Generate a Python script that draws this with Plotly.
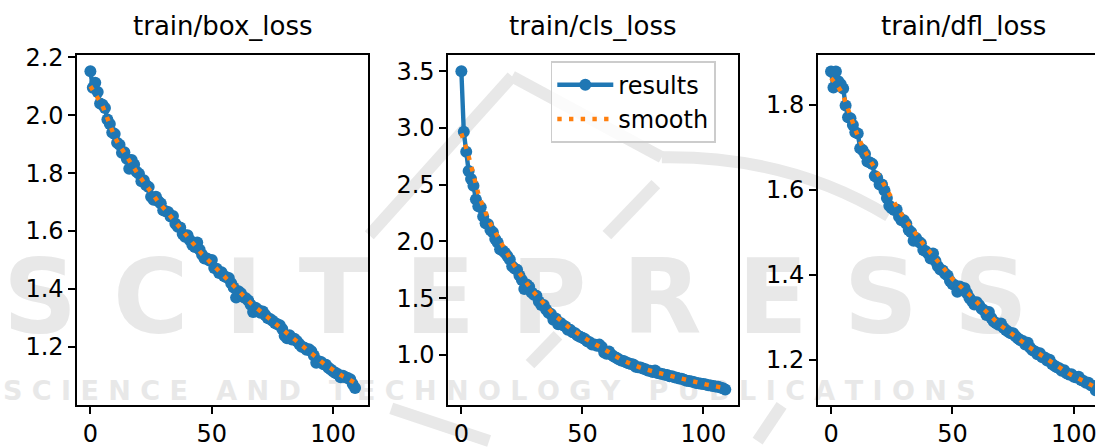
import plotly.graph_objects as go

W, H = 1097, 448

epochs = list(range(110))

box_results = [2.152, 2.095, 2.112, 2.080, 2.040, 2.036, 2.025, 1.985, 1.970, 1.940,
               1.935, 1.905, 1.898, 1.870, 1.872, 1.850, 1.815, 1.845, 1.830, 1.805,
               1.798, 1.772, 1.775, 1.758, 1.752, 1.718, 1.708, 1.718, 1.703, 1.695,
               1.672, 1.668, 1.666, 1.650, 1.652, 1.625, 1.615, 1.612, 1.590, 1.580,
               1.585, 1.568, 1.552, 1.545, 1.560, 1.535, 1.518, 1.505, 1.505, 1.498,
               1.500, 1.472, 1.470, 1.455, 1.458, 1.445, 1.440, 1.438, 1.420, 1.405,
               1.370, 1.392, 1.385, 1.372, 1.368, 1.360, 1.345, 1.320, 1.335, 1.328,
               1.318, 1.322, 1.310, 1.300, 1.296, 1.290, 1.282, 1.278, 1.275, 1.262,
               1.238, 1.230, 1.240, 1.225, 1.228, 1.220, 1.210, 1.200, 1.198, 1.190,
               1.192, 1.185, 1.170, 1.145, 1.150, 1.148, 1.140, 1.138, 1.128, 1.122,
               1.115, 1.110, 1.105, 1.095, 1.100, 1.095, 1.092, 1.088, 1.072, 1.058]
box_smooth = [2.100, 2.088, 2.075, 2.062, 2.046, 2.032, 2.010, 1.983, 1.963, 1.945,
              1.925, 1.909, 1.896, 1.882, 1.866, 1.850, 1.838, 1.825, 1.814, 1.803,
              1.791, 1.780, 1.768, 1.756, 1.743, 1.730, 1.718, 1.709, 1.700, 1.691,
              1.681, 1.671, 1.661, 1.650, 1.640, 1.628, 1.618, 1.607, 1.597, 1.586,
              1.576, 1.566, 1.557, 1.548, 1.539, 1.530, 1.520, 1.512, 1.503, 1.495,
              1.487, 1.478, 1.470, 1.461, 1.453, 1.444, 1.436, 1.428, 1.419, 1.411,
              1.402, 1.393, 1.384, 1.375, 1.367, 1.359, 1.351, 1.344, 1.337, 1.330,
              1.322, 1.315, 1.308, 1.301, 1.295, 1.288, 1.282, 1.275, 1.268, 1.260,
              1.252, 1.244, 1.238, 1.231, 1.225, 1.218, 1.212, 1.205, 1.199, 1.192,
              1.185, 1.177, 1.169, 1.162, 1.156, 1.150, 1.143, 1.137, 1.131, 1.125,
              1.119, 1.113, 1.108, 1.102, 1.098, 1.094, 1.090, 1.086, 1.081, 1.076]

cls_results = [3.500, 2.965, 2.790, 2.620, 2.550, 2.490, 2.370, 2.310, 2.300, 2.220,
               2.160, 2.150, 2.100, 2.080, 2.020, 1.990, 1.930, 1.920, 1.900, 1.870,
               1.840, 1.780, 1.760, 1.750, 1.700, 1.660, 1.580, 1.620, 1.600, 1.550,
               1.530, 1.520, 1.470, 1.440, 1.440, 1.400, 1.370, 1.360, 1.310, 1.320,
               1.270, 1.280, 1.260, 1.250, 1.220, 1.220, 1.200, 1.190, 1.170, 1.160,
               1.150, 1.140, 1.120, 1.110, 1.090, 1.090, 1.080, 1.090, 1.070, 1.020,
               1.010, 1.030, 1.000, 0.985, 0.975, 0.960, 0.950, 0.945, 0.935, 0.925,
               0.920, 0.915, 0.895, 0.890, 0.888, 0.880, 0.872, 0.862, 0.860, 0.848,
               0.862, 0.840, 0.835, 0.832, 0.825, 0.822, 0.812, 0.812, 0.803, 0.798,
               0.792, 0.790, 0.780, 0.772, 0.770, 0.765, 0.760, 0.752, 0.750, 0.745,
               0.742, 0.738, 0.732, 0.730, 0.725, 0.720, 0.718, 0.712, 0.705, 0.694]
cls_smooth = [2.950, 2.870, 2.820, 2.750, 2.660, 2.590, 2.510, 2.420, 2.360, 2.300,
              2.250, 2.200, 2.155, 2.115, 2.075, 2.035, 2.000, 1.965, 1.930, 1.895,
              1.850, 1.815, 1.782, 1.750, 1.718, 1.686, 1.656, 1.628, 1.600, 1.573,
              1.550, 1.525, 1.500, 1.475, 1.450, 1.428, 1.405, 1.383, 1.360, 1.340,
              1.320, 1.300, 1.283, 1.266, 1.250, 1.234, 1.218, 1.203, 1.188, 1.175,
              1.162, 1.148, 1.134, 1.120, 1.107, 1.095, 1.085, 1.073, 1.062, 1.048,
              1.034, 1.020, 1.007, 0.994, 0.982, 0.970, 0.958, 0.948, 0.938, 0.928,
              0.918, 0.909, 0.900, 0.893, 0.887, 0.880, 0.872, 0.865, 0.858, 0.852,
              0.847, 0.842, 0.838, 0.834, 0.829, 0.825, 0.819, 0.813, 0.807, 0.801,
              0.795, 0.789, 0.783, 0.778, 0.773, 0.767, 0.762, 0.757, 0.751, 0.747,
              0.743, 0.739, 0.735, 0.731, 0.727, 0.723, 0.719, 0.715, 0.710, 0.705]

dfl_results = [1.878, 1.840, 1.878, 1.855, 1.848, 1.838, 1.798, 1.770, 1.768, 1.752,
               1.735, 1.732, 1.697, 1.693, 1.684, 1.666, 1.664, 1.660, 1.632, 1.628,
               1.612, 1.612, 1.598, 1.580, 1.562, 1.556, 1.552, 1.553, 1.536, 1.528,
               1.528, 1.520, 1.505, 1.500, 1.480, 1.486, 1.478, 1.474, 1.458, 1.455,
               1.450, 1.438, 1.450, 1.432, 1.420, 1.412, 1.410, 1.402, 1.398, 1.385,
               1.378, 1.375, 1.360, 1.372, 1.365, 1.368, 1.356, 1.345, 1.338, 1.330,
               1.335, 1.328, 1.320, 1.316, 1.305, 1.312, 1.298, 1.290, 1.286, 1.282,
               1.285, 1.275, 1.270, 1.266, 1.262, 1.262, 1.255, 1.250, 1.246, 1.244,
               1.236, 1.240, 1.228, 1.222, 1.219, 1.213, 1.215, 1.206, 1.205, 1.198,
               1.200, 1.190, 1.186, 1.182, 1.180, 1.174, 1.175, 1.168, 1.165, 1.166,
               1.160, 1.158, 1.160, 1.152, 1.150, 1.146, 1.146, 1.140, 1.138, 1.128]
dfl_smooth = [1.862, 1.856, 1.849, 1.841, 1.832, 1.822, 1.805, 1.787, 1.770, 1.755,
              1.741, 1.727, 1.712, 1.700, 1.690, 1.680, 1.669, 1.658, 1.647, 1.636,
              1.627, 1.618, 1.608, 1.598, 1.587, 1.576, 1.566, 1.558, 1.550, 1.542,
              1.533, 1.525, 1.518, 1.511, 1.504, 1.496, 1.488, 1.480, 1.472, 1.464,
              1.458, 1.451, 1.445, 1.438, 1.430, 1.422, 1.415, 1.408, 1.402, 1.396,
              1.390, 1.385, 1.379, 1.374, 1.369, 1.364, 1.358, 1.353, 1.348, 1.342,
              1.337, 1.330, 1.324, 1.318, 1.312, 1.306, 1.300, 1.294, 1.289, 1.284,
              1.280, 1.276, 1.272, 1.268, 1.264, 1.260, 1.256, 1.252, 1.247, 1.242,
              1.237, 1.232, 1.228, 1.224, 1.220, 1.216, 1.212, 1.208, 1.204, 1.200,
              1.196, 1.192, 1.188, 1.184, 1.180, 1.176, 1.173, 1.170, 1.167, 1.164,
              1.161, 1.158, 1.156, 1.154, 1.151, 1.148, 1.145, 1.142, 1.139, 1.135]

panel_titles = ["train/box_loss", "train/cls_loss", "train/dfl_loss"]
series_names = ["results", "smooth"]
x_tickvals = [0, 50, 100]
box_yticks = [1.2, 1.4, 1.6, 1.8, 2.0, 2.2]
cls_yticks = [1.0, 1.5, 2.0, 2.5, 3.0, 3.5]
dfl_yticks = [1.2, 1.4, 1.6, 1.8]
watermark_big = "S C I T E P R E S S"
watermark_small = "S C I E N C E   A N D   T E C H N O L O G Y   P U B L I C A T I O N S"

BLUE = "#1f77b4"
ORANGE = "#ff7f0e"
FONT = "DejaVu Sans"


def fx(p):
    return p / W


def fy(p):
    return 1 - p / H


panels = [
    (box_results, box_smooth, box_yticks),
    (cls_results, cls_smooth, cls_yticks),
    (dfl_results, dfl_smooth, dfl_yticks),
]
x_domains = [(77.3, 369.0), (449.0, 739.8), (819.3, 1097.0)]
title_centers = [223.2, 594.4, 965.0]
x_ranges = [[-5.45, 114.45], [-5.45, 114.45], [-5.45, 108.7]]
y_ranges = [[1.0, 2.207], [0.56, 3.64], [1.094, 1.916]]
y_dom = [fy(409.3), fy(46.0)]

fig = go.Figure()

axis_common = dict(
    showgrid=False, zeroline=False, showline=True, linecolor="black", linewidth=1.6,
    ticks="outside", ticklen=7, tickwidth=1.6, tickcolor="black",
    tickfont=dict(family=FONT, size=24, color="black"),
)

layout_axes = {}
annotations = []
for i, (res, smo, yt) in enumerate(panels):
    sfx = "" if i == 0 else str(i + 1)
    xa, ya = "x" + sfx, "y" + sfx
    show = (i == 1)
    fig.add_trace(go.Scatter(
        x=epochs, y=res, xaxis=xa, yaxis=ya, mode="lines+markers", name=series_names[0],
        line=dict(color=BLUE, width=4.4), marker=dict(color=BLUE, size=12),
        showlegend=show,
    ))
    fig.add_trace(go.Scatter(
        x=epochs, y=smo, xaxis=xa, yaxis=ya, mode="lines", name=series_names[1],
        line=dict(color=ORANGE, width=4.4, dash="4.4px,7.3px"),
        showlegend=show,
    ))
    layout_axes["xaxis" + sfx] = dict(
        axis_common, domain=[fx(x_domains[i][0]), fx(x_domains[i][1])],
        range=x_ranges[i], anchor=ya, mirror=True, tickmode="array", tickvals=x_tickvals,
        ticklabeloverflow="allow",
    )
    layout_axes["yaxis" + sfx] = dict(
        axis_common, domain=y_dom, range=y_ranges[i], anchor=xa,
        mirror=(i != 2), tickmode="array", tickvals=yt, tickformat=".1f",
    )
    annotations.append(dict(
        text=panel_titles[i], x=fx(title_centers[i]), y=y_dom[1], xref="paper", yref="paper",
        xanchor="center", yanchor="bottom", yshift=12, showarrow=False,
        font=dict(family=FONT, size=26, color="black"),
    ))

WM = "#e8e8e8"
shapes = [
    dict(type="rect", xref="paper", yref="paper", x0=0, x1=1, y0=fy(335), y1=fy(245),
         line=dict(width=0), fillcolor="rgba(0,0,0,0)", layer="below",
         label=dict(text=watermark_big, textposition="middle left", padding=0,
                    font=dict(family=FONT, size=103, color=WM, weight="bold"))),
    dict(type="rect", xref="paper", yref="paper", x0=0, x1=1, y0=fy(408), y1=fy(376),
         line=dict(width=0), fillcolor="rgba(0,0,0,0)", layer="below",
         label=dict(text=watermark_small, textposition="middle left", padding=0,
                    font=dict(family=FONT, size=27, color=WM, weight="bold"))),
]
wm_lines = [
    ((370, 233), (513, 68)),
    ((513, 68), (663, 152)),
    ((657, 180), (608, 233)),
    ((559, 337), (531, 367)),
    ((392, 413), (490, 447)),
    ((783, 410), (759, 447)),
]
for (a, b) in wm_lines:
    shapes.append(dict(type="line", xref="paper", yref="paper", x0=fx(a[0]), y0=fy(a[1]),
                       x1=fx(b[0]), y1=fy(b[1]), line=dict(color=WM, width=12), layer="below"))
shapes.append(dict(
    type="path", xref="paper", yref="paper", layer="below",
    path="M %f,%f Q %f,%f %f,%f" % (fx(663), fy(152), fx(790), fy(150), fx(890), fy(213)),
    line=dict(color=WM, width=12), fillcolor="rgba(0,0,0,0)",
))

fig.update_layout(
    width=W, height=H, margin=dict(l=0, r=0, t=0, b=0),
    paper_bgcolor="white", plot_bgcolor="rgba(0,0,0,0)",
    font=dict(family=FONT, color="black"),
    showlegend=True,
    legend=dict(
        x=fx(551.7), y=fy(52), xanchor="left", yanchor="top",
        bgcolor="rgba(255,255,255,0.8)", bordercolor="#cccccc", borderwidth=1.6,
        font=dict(family=FONT, size=24, color="black"), itemwidth=56,
    ),
    annotations=annotations,
    shapes=shapes,
    **layout_axes,
)

fig.write_html("out.html")
